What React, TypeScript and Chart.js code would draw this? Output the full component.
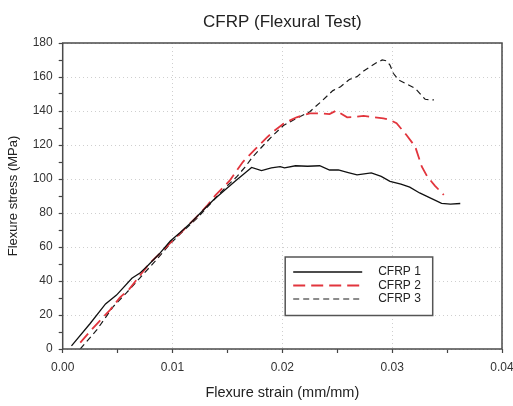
import React, { useEffect, useRef } from "react";
import { Chart, registerables } from "chart.js";

Chart.register(...registerables);

const chartTitle = "CFRP (Flexural Test)";
const xTitle = "Flexure strain (mm/mm)";
const yTitle = "Flexure stress (MPa)";
const seriesNames = ["CFRP 1", "CFRP 2", "CFRP 3"];

const cfrp1Strain = [0.0008, 0.0025, 0.0039, 0.0049, 0.0063, 0.0070, 0.0078, 0.0088, 0.0098, 0.0107, 0.0116, 0.0127, 0.0137, 0.0149, 0.0158, 0.0166, 0.0172, 0.0181, 0.0190, 0.0198, 0.0202, 0.0212, 0.0223, 0.0234, 0.0243, 0.0251, 0.0260, 0.0268, 0.0281, 0.0290, 0.0298, 0.0308, 0.0316, 0.0325, 0.0335, 0.0345, 0.0353, 0.0362];
const cfrp1Stress = [1.8, 15, 26.5, 31.7, 41.6, 44.5, 49.4, 56, 63.5, 68.5, 73.8, 81, 87.5, 94.3, 99.2, 103.5, 106.8, 104.9, 106.5, 107.3, 106.6, 107.8, 107.5, 107.8, 105.3, 105.3, 103.8, 102.4, 103.6, 101.5, 98.6, 97, 95.2, 91.8, 88.8, 85.7, 85.2, 85.6];

const cfrp2Strain = [0.0016, 0.0026, 0.0043, 0.0052, 0.0061, 0.0070, 0.0079, 0.0089, 0.0098, 0.0110, 0.0122, 0.0131, 0.0139, 0.0152, 0.0164, 0.0176, 0.0186, 0.0193, 0.0201, 0.0207, 0.0213, 0.0219, 0.0225, 0.0234, 0.0243, 0.0249, 0.0259, 0.0266, 0.0274, 0.0283, 0.0292, 0.0298, 0.0304, 0.0313, 0.0321, 0.0327, 0.0332, 0.0339, 0.0347];
const cfrp2Stress = [3.7, 11.2, 22.9, 30.2, 35.5, 43, 50.3, 56.5, 62.5, 70, 77.7, 84, 90.4, 99, 110, 118, 124.5, 128.5, 132.5, 134.5, 136.3, 137.5, 138.6, 138.6, 138.2, 140.2, 136.3, 136.5, 137.1, 136.3, 135.7, 134.7, 132.8, 125.9, 119, 107.2, 101.4, 96, 90.6];

const cfrp3Strain = [0.0016, 0.0031, 0.0046, 0.0058, 0.0070, 0.0084, 0.0098, 0.0110, 0.0122, 0.0131, 0.0140, 0.0149, 0.0158, 0.0166, 0.0173, 0.0183, 0.0192, 0.0201, 0.0213, 0.0225, 0.0237, 0.0246, 0.0253, 0.0261, 0.0268, 0.0274, 0.0280, 0.0286, 0.0291, 0.0295, 0.0298, 0.0301, 0.0306, 0.0312, 0.0321, 0.0330, 0.0338];
const cfrp3Stress = [0, 11.2, 24.9, 33, 41.6, 51.5, 62, 69.5, 76.7, 83, 89.4, 95.5, 101, 107, 113, 120, 126, 131.5, 135.7, 139.6, 146.5, 152, 154.3, 158.5, 160.2, 163.5, 166.1, 168.5, 170, 169.5, 167, 162.2, 158.2, 156.3, 153.3, 146.9, 146.5];

const toPoints = (xs: number[], ys: number[]) => xs.map((x, i) => ({ x, y: ys[i] }));

const FONT = 'Arial, "Liberation Sans", sans-serif';

const frameAndLegend = {
  id: "frameAndLegend",
  afterDatasetsDraw(chart: any) {
    const { ctx, chartArea } = chart;
    ctx.save();
    // plot title centred over the plot area
    ctx.fillStyle = "#222";
    ctx.font = `17px ${FONT}`;
    ctx.textAlign = "center";
    ctx.textBaseline = "middle";
    ctx.fillText(chartTitle, (chartArea.left + chartArea.right) / 2, 22);

    ctx.strokeStyle = "#4a4a4a";
    ctx.lineWidth = 1.5;
    ctx.setLineDash([]);
    ctx.strokeRect(chartArea.left, chartArea.top, chartArea.right - chartArea.left, chartArea.bottom - chartArea.top);

    const bx = chartArea.left + 222.5;
    const by = chartArea.top + 214;
    const bw = 147.5;
    const bh = 58.5;
    ctx.fillStyle = "#ffffff";
    ctx.fillRect(bx, by, bw, bh);
    ctx.strokeStyle = "#555555";
    ctx.lineWidth = 1.5;
    ctx.strokeRect(bx, by, bw, bh);

    const rows = [15, 28.5, 42];
    chart.data.datasets.forEach((ds: any, i: number) => {
      const y = by + rows[i];
      ctx.beginPath();
      ctx.strokeStyle = ds.borderColor;
      ctx.lineWidth = ds.borderWidth;
      ctx.setLineDash(ds.borderDash || []);
      ctx.moveTo(bx + 8, y);
      ctx.lineTo(bx + 77, y);
      ctx.stroke();
      ctx.setLineDash([]);
      ctx.fillStyle = "#222";
      ctx.font = `12px ${FONT}`;
      ctx.textBaseline = "middle";
      ctx.textAlign = "left";
      ctx.fillText(ds.label, bx + 93, y);
    });
    ctx.restore();
  },
};

export default function App() {
  const ref = useRef<HTMLCanvasElement | null>(null);

  useEffect(() => {
    if (!ref.current) return;
    Chart.defaults.font.family = FONT;
    const chart = new Chart(ref.current, {
      type: "line",
      data: {
        datasets: [
          {
            label: seriesNames[0],
            data: toPoints(cfrp1Strain, cfrp1Stress),
            borderColor: "#111111",
            borderWidth: 1.3,
            borderDash: [],
            pointRadius: 0,
            tension: 0,
          },
          {
            label: seriesNames[1],
            data: toPoints(cfrp2Strain, cfrp2Stress),
            borderColor: "#e2353d",
            borderWidth: 1.8,
            borderDash: [12, 6],
            pointRadius: 0,
            tension: 0,
          },
          {
            label: seriesNames[2],
            data: toPoints(cfrp3Strain, cfrp3Stress),
            borderColor: "#1a1a1a",
            borderWidth: 1.2,
            borderDash: [6, 4],
            pointRadius: 0,
            tension: 0,
          },
        ],
      },
      options: {
        responsive: false,
        animation: false,
        devicePixelRatio: 1,
        layout: { padding: { top: 43, left: 0, right: 11, bottom: 0 } },
        plugins: {
          legend: { display: false },
          tooltip: { enabled: false },
          title: { display: false },
        },
        scales: {
          x: {
            type: "linear",
            min: 0,
            max: 0.04,
            afterFit: (s: any) => {
              s.height = 57;
              s.paddingRight = 0;
              s.paddingLeft = 0;
            },
            ticks: {
              stepSize: 0.005,
              autoSkip: false,
              maxRotation: 0,
              padding: 7,
              color: "#333",
              font: { size: 12, family: FONT },
              callback: (v: any) => {
                const n = Number(v);
                return Math.round(n * 200) % 2 === 0 ? n.toFixed(2) : "";
              },
            },
            grid: {
              color: (c: any) => {
                const n = c.tick ? c.tick.value : 0;
                return Math.round(n * 200) % 2 === 0 ? "#cfcfcf" : "rgba(0,0,0,0)";
              },
              lineWidth: 1,
              tickLength: 4,
              tickColor: "#444",
              tickWidth: 1.2,
              tickBorderDash: [],
            },
            border: { display: false, dash: [1, 3] },
            title: {
              display: true,
              text: xTitle,
              color: "#222",
              font: { size: 14.5, family: FONT },
              padding: { top: 0, bottom: 4.4 },
            },
          },
          y: {
            type: "linear",
            min: 0,
            max: 180,
            afterFit: (s: any) => {
              s.width = 62.7;
              s.paddingTop = 0;
              s.paddingBottom = 0;
            },
            ticks: {
              stepSize: 10,
              autoSkip: false,
              padding: 6,
              color: "#333",
              font: { size: 12, family: FONT },
              callback: (v: any) => (Number(v) % 20 === 0 ? String(v) : ""),
            },
            grid: {
              color: (c: any) => {
                const n = c.tick ? c.tick.value : 0;
                return n % 20 === 0 ? "#cfcfcf" : "rgba(0,0,0,0)";
              },
              lineWidth: 1,
              tickLength: 4,
              tickColor: "#444",
              tickWidth: 1.2,
              tickBorderDash: [],
            },
            border: { display: false, dash: [1, 3] },
            title: {
              display: true,
              text: yTitle,
              color: "#222",
              font: { size: 13, family: FONT },
              padding: { top: 6, bottom: 0 },
            },
          },
        },
      },
      plugins: [frameAndLegend],
    } as any);
    return () => chart.destroy();
  }, []);

  return (
    <div style={{ position: "absolute", left: 0, top: 0, width: 513, height: 406, background: "#fff" }}>
      <canvas ref={ref} width={513} height={406} style={{ display: "block" }} />
    </div>
  );
}
